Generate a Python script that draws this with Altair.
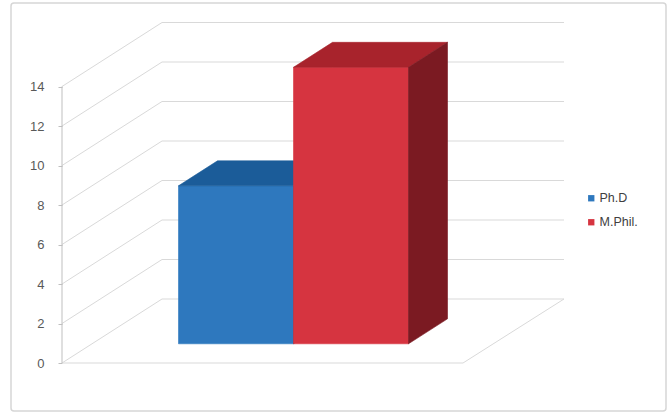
import altair as alt
import pandas as pd

# ---- data ----
categories = ["Ph.D", "M.Phil."]
values = [8, 14]
tick_values = [0, 2, 4, 6, 8, 10, 12, 14]

# ---- styling ----
front_colors = ["#2E78BE", "#D63440"]
top_colors = ["#1B5C99", "#A8232C"]
side_colors = ["#1A4F80", "#7B1A22"]
GRID = "#d9d9d9"
TEXT = "#595959"

# ---- 3-D projection layout (style constants) ----
PX_PER_UNIT = 19.75
PLOT_W, PLOT_H = 600, 346
Y_MAX = PLOT_H / PX_PER_UNIT
DEPTH_X = 100                 # horizontal shift of the back wall, px
DEPTH_Y = 64 / PX_PER_UNIT    # vertical shift of the back wall, value units
FLOOR_W = 401
BAR_W = 115
Z0, Z1 = 0.30, 0.69           # bar depth (fraction of floor depth)

x_scale = alt.Scale(domain=[0, PLOT_W], nice=False, zero=False)
y_scale = alt.Scale(domain=[0, Y_MAX], nice=False, zero=False)
y_axis = alt.Axis(values=tick_values, domain=False, grid=False, tickSize=4,
                  tickColor="#bfbfbf", labelPadding=14, labelFontSize=13,
                  labelColor=TEXT, labelFont="Liberation Sans", title=None)


def X(field):
    return alt.X(field, type="quantitative", scale=x_scale, axis=None)


def Y(field):
    return alt.Y(field, type="quantitative", scale=y_scale, axis=y_axis)


# gridlines: side wall diagonal + back wall horizontal
grid_rows = []
for v in tick_values:
    grid_rows += [
        {"v": v, "k": 0, "x": 0, "y": v},
        {"v": v, "k": 1, "x": DEPTH_X, "y": v + DEPTH_Y},
        {"v": v, "k": 2, "x": DEPTH_X + FLOOR_W + 1, "y": v + DEPTH_Y},
    ]
grid_df = pd.DataFrame(grid_rows)
grid = alt.Chart(grid_df).mark_line(color=GRID, strokeWidth=1).encode(
    x=X("x"), y=Y("y"), detail="v:N", order="k:O")

floor_df = pd.DataFrame({"x": [0, FLOOR_W, FLOOR_W + DEPTH_X + 1],
                         "y": [0, 0, DEPTH_Y], "k": [0, 1, 2]})
floor = alt.Chart(floor_df).mark_line(color=GRID, strokeWidth=1).encode(
    x=X("x"), y=Y("y"), order="k:O")

axis_df = pd.DataFrame({"y0": [tick_values[0]], "y1": [tick_values[-1]]})
axis_line = alt.Chart(axis_df).mark_rule(color="#bfbfbf", strokeWidth=1).encode(
    x=alt.value(0), y=Y("y0"), y2="y1")

frame = alt.Chart(pd.DataFrame({"a": [0]})).mark_rect(
    fill="white", fillOpacity=0, stroke="#d6d6d6", strokeWidth=1.5, cornerRadius=3
).encode(x=alt.value(-51), x2=alt.value(604), y=alt.value(-14), y2=alt.value(394))

layers = [frame, grid, floor, axis_line]

n = len(categories)
left0 = FLOOR_W / 2 - n * BAR_W / 2 + 1
for i, (cat, v) in enumerate(zip(categories, values)):
    L = left0 + i * BAR_W
    a, b = L + Z0 * DEPTH_X, L + Z1 * DEPTH_X
    c, d = L + BAR_W + Z0 * DEPTH_X, L + BAR_W + Z1 * DEPTH_X
    y0, y1 = Z0 * DEPTH_Y, Z1 * DEPTH_Y
    t0, t1 = v + y0, v + y1

    front_df = pd.DataFrame({"series": [cat], "x": [a], "x2": [c],
                             "y": [y0], "y2": [t0]})
    front = alt.Chart(front_df).mark_rect(strokeWidth=0.6).encode(
        x=X("x"), x2="x2", y=Y("y"), y2="y2",
        color=alt.Color("series:N",
                        scale=alt.Scale(domain=categories, range=front_colors),
                        legend=alt.Legend(title=None)),
        stroke=alt.value(front_colors[i]))

    top_df = pd.DataFrame({"x": [a, b, c, d],
                           "lo": [t0, t0, t0, t1],
                           "hi": [t0, t1, t1, t1]})
    top = alt.Chart(top_df).mark_area(
        color=top_colors[i], stroke=top_colors[i], strokeWidth=0.6,
        interpolate="linear").encode(x=X("x"), y=Y("lo"), y2="hi")

    side_df = pd.DataFrame({"x": [c, d], "lo": [y0, y1], "hi": [t0, t1]})
    side = alt.Chart(side_df).mark_area(
        color=side_colors[i], stroke=side_colors[i], strokeWidth=0.6,
        interpolate="linear").encode(x=X("x"), y=Y("lo"), y2="hi")

    layers += [front, top, side]

chart = alt.layer(*layers).properties(
    width=PLOT_W, height=PLOT_H,
    autosize=alt.AutoSizeParams(type="none"),
    padding={"left": 62, "top": 17, "right": 8, "bottom": 51},
    background="white",
).configure_view(stroke=None).configure_legend(
    orient="none", legendX=523, legendY=175, padding=0,
    symbolType="square", symbolSize=40, symbolStrokeWidth=0,
    labelFontSize=12.5, labelColor="#404040", labelFont="Liberation Sans",
    rowPadding=11, labelOffset=2,
)

chart.save("out.html", embed_options={"renderer": "svg", "actions": False})
